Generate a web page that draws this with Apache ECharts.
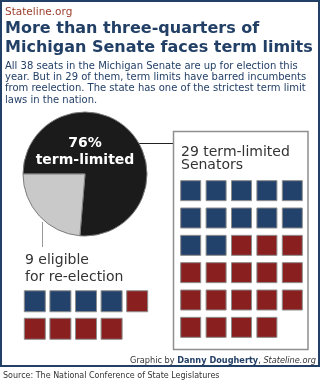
<!DOCTYPE html>
<html>
<head>
<meta charset="utf-8">
<script src="https://cdn.jsdelivr.net/npm/echarts@6/dist/echarts.min.js"></script>
<style>
  html, body { margin: 0; padding: 0; background: #fff; }
  #chart { width: 321px; height: 384px; }
</style>
</head>
<body>
<div id="chart"></div>
<script>
// Michigan Senate seats, 2010 election
const seatGroups = ['term-limited', 'eligible'];
const seatCounts = [29, 9];                 // pie slices
const termLimitedByParty = [12, 17];        // [Democrat, Republican]
const eligibleByParty = [4, 5];             // [Democrat, Republican]
const partyNames = ['Democrat', 'Republican'];

const headline = ['More than three-quarters of', 'Michigan Senate faces term limits'];
const intro = [
  'All 38 seats in the Michigan Senate are up for election this',
  'year. But in 29 of them, term limits have barred incumbents',
  'from reelection. The state has one of the strictest term limit',
  'laws in the nation.'
];

const NAVY = '#223f66';
const RED = '#8a1f1f';
const BLUE = '#23426b';
const FONT = '"DejaVu Sans", Verdana, sans-serif';

// lay out a party breakdown as a 5-wide waffle, Democrats first
function waffleCells(counts) {
  const out = [[], []];
  let k = 0;
  counts.forEach((n, p) => {
    for (let i = 0; i < n; i++, k++) out[p].push([k % 5, Math.floor(k / 5)]);
  });
  return out;
}
const limitedCells = waffleCells(termLimitedByParty);
const eligibleCells = waffleCells(eligibleByParty);
const total = seatCounts.reduce((a, b) => a + b, 0);
const pctLimited = Math.round(seatCounts[0] / total * 100);

function cellSeries(cells, axisIndex, size) {
  return cells.map((pts, p) => ({
    type: 'scatter',
    name: partyNames[p],
    xAxisIndex: axisIndex,
    yAxisIndex: axisIndex,
    symbol: 'rect',
    symbolSize: size,
    data: pts,
    itemStyle: { color: p === 0 ? BLUE : RED, borderColor: '#8c8c8c', borderWidth: 1, opacity: 1 },
    silent: true
  }));
}

const chart = echarts.init(document.getElementById('chart'), null, { renderer: 'canvas' });
chart.setOption({
  animation: false,
  backgroundColor: '#fff',
  grid: [
    { left: 178, top: 177, width: 127, height: 164 },
    { left: 22, top: 287.5, width: 128, height: 55 }
  ],
  xAxis: [
    { type: 'value', gridIndex: 0, min: -0.5, max: 4.5, show: false },
    { type: 'value', gridIndex: 1, min: -0.5, max: 4.5, show: false }
  ],
  yAxis: [
    { type: 'value', gridIndex: 0, min: -0.5, max: 5.5, inverse: true, show: false },
    { type: 'value', gridIndex: 1, min: -0.5, max: 1.5, inverse: true, show: false }
  ],
  series: [
    {
      type: 'pie',
      center: [85, 174],
      radius: 62,
      startAngle: 180,
      clockwise: true,
      silent: true,
      label: { show: false },
      labelLine: { show: false },
      itemStyle: { borderColor: '#7d7d7d', borderWidth: 1 },
      data: seatCounts.map((v, i) => ({
        name: seatGroups[i], value: v,
        itemStyle: { color: i === 0 ? '#1b1b1b' : '#c9c9c9' }
      }))
    },
    ...cellSeries(limitedCells, 0, 20),
    ...cellSeries(eligibleCells, 1, 21)
  ],
  graphic: [
    // outer frame
    { type: 'rect', shape: { x: 1, y: 1, width: 318, height: 365 }, style: { fill: null, stroke: NAVY, lineWidth: 2 }, z: 10 },
    { type: 'text', style: { text: 'Stateline.org', x: 5, y: 12, font: '10.5px ' + FONT, fill: '#9a3d2c', textVerticalAlign: 'middle' } },
    { type: 'text', style: { text: headline[0], x: 5, y: 29, font: 'bold 16px ' + FONT, fill: NAVY, textVerticalAlign: 'middle' } },
    { type: 'text', style: { text: headline[1], x: 5, y: 48, font: 'bold 16px ' + FONT, fill: NAVY, textVerticalAlign: 'middle' } },
    ...intro.map((line, i) => ({
      type: 'text', style: { text: line, x: 5, y: 66 + i * 11.4, font: '10px ' + FONT, fill: NAVY, textVerticalAlign: 'middle' }
    })),
    // pie label
    { type: 'text', z: 5, style: { text: pctLimited + '%', x: 85, y: 143, font: 'bold 14px ' + FONT, fill: '#fff', textAlign: 'center', textVerticalAlign: 'middle' } },
    { type: 'text', z: 5, style: { text: 'term-limited', x: 85, y: 160, font: 'bold 14px ' + FONT, fill: '#fff', textAlign: 'center', textVerticalAlign: 'middle' } },
    // connectors
    { type: 'line', shape: { x1: 138, y1: 143.5, x2: 173, y2: 143.5 }, style: { stroke: '#222', lineWidth: 1 } },
    { type: 'line', shape: { x1: 42.5, y1: 222, x2: 42.5, y2: 247 }, style: { stroke: '#999', lineWidth: 1 } },
    // term-limited box
    { type: 'rect', shape: { x: 173.5, y: 131.5, width: 134.5, height: 218 }, style: { fill: null, stroke: '#8f8f8f', lineWidth: 1.5 } },
    { type: 'text', style: { text: seatCounts[0] + ' term-limited', x: 181, y: 152, font: '14px ' + FONT, fill: '#333', textVerticalAlign: 'middle' } },
    { type: 'text', style: { text: 'Senators', x: 181, y: 165, font: '14px ' + FONT, fill: '#333', textVerticalAlign: 'middle' } },
    { type: 'text', style: { text: seatCounts[1] + ' eligible', x: 25, y: 260, font: '14px ' + FONT, fill: '#333', textVerticalAlign: 'middle' } },
    { type: 'text', style: { text: 'for re-election', x: 25, y: 277, font: '14px ' + FONT, fill: '#333', textVerticalAlign: 'middle' } },
    // credits
    {
      type: 'text',
      style: {
        text: '{a|Graphic by }{b|Danny Dougherty}{a|, }{c|Stateline.org}',
        x: 316, y: 361, textAlign: 'right', textVerticalAlign: 'middle',
        rich: {
          a: { font: '8.2px ' + FONT, fill: '#333' },
          b: { font: 'bold 8.2px ' + FONT, fill: NAVY },
          c: { font: 'italic 8.2px ' + FONT, fill: '#333' }
        }
      }
    },
    { type: 'text', style: { text: 'Source: The National Conference of State Legislatures', x: 3, y: 376, font: '8px ' + FONT, fill: '#333', textVerticalAlign: 'middle' } }
  ]
});
</script>
</body>
</html>
